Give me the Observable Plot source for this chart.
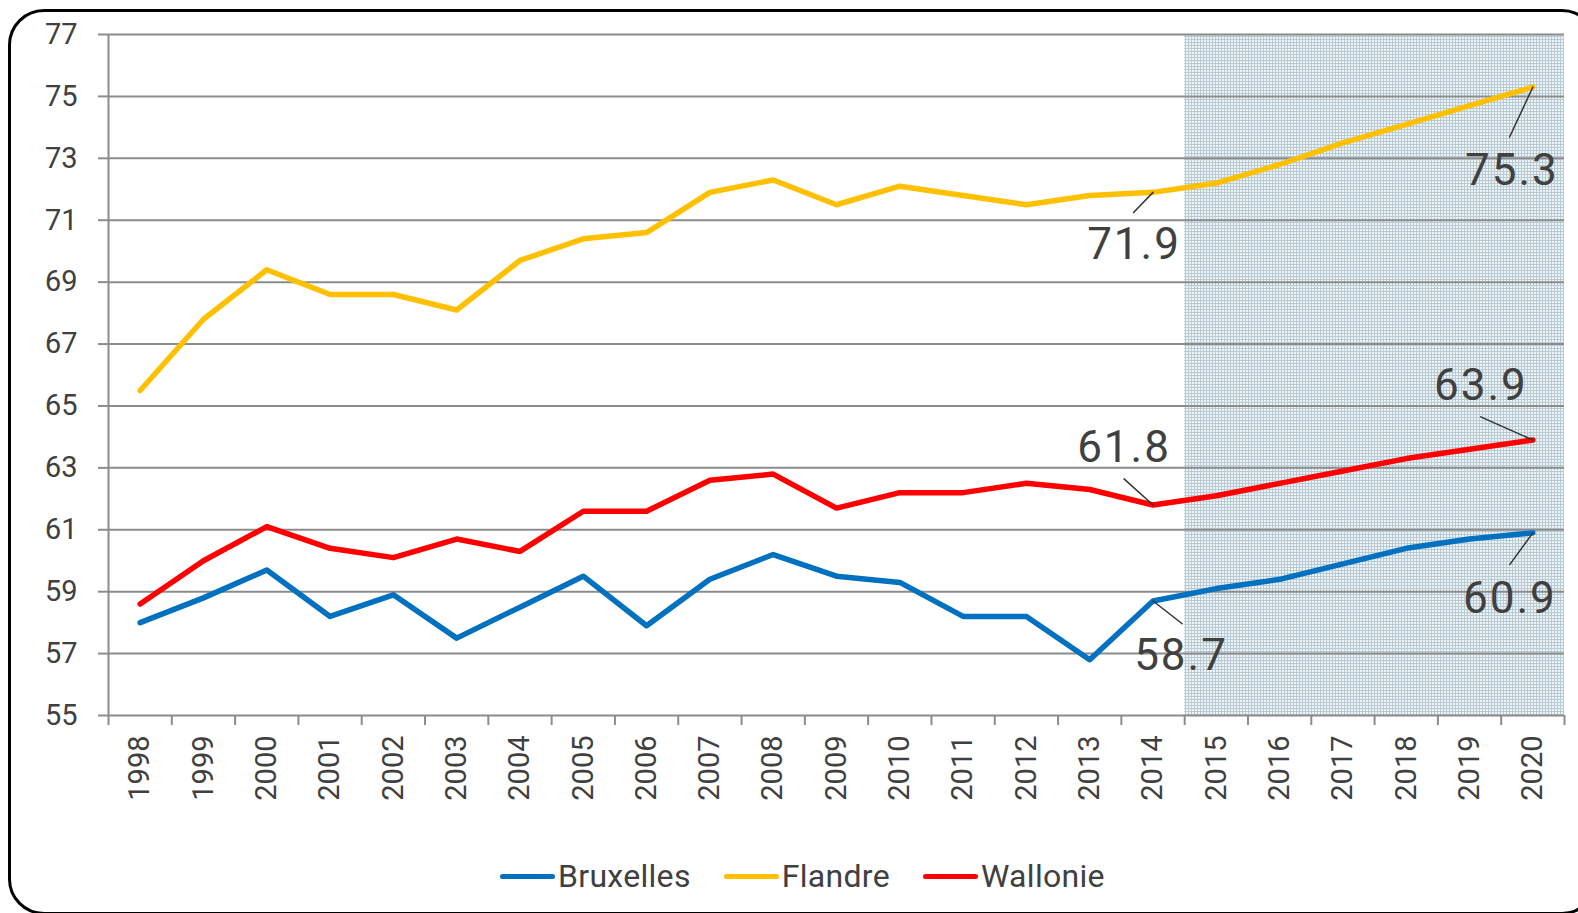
<!DOCTYPE html>
<html>
<head>
<meta charset="utf-8">
<script src="https://cdn.jsdelivr.net/npm/d3@7"></script>
<script src="https://cdn.jsdelivr.net/npm/@observablehq/plot@0.6"></script>
<style>
  html, body { margin: 0; padding: 0; background: #fff; width: 1578px; height: 913px; overflow: hidden; }
  #frame { position: absolute; left: 8px; top: 9px; width: 1590px; height: 906px; border: 3px solid #000; border-radius: 36px; box-sizing: border-box; pointer-events: none; }
  #chart { position: absolute; left: 0; top: 0; }
  #legend { position: absolute; top: 857px; left: 500px; display: flex; align-items: center; font-family: Roboto, sans-serif; font-size: 32px; color: #404040; letter-spacing: 0.3px; }
  .item { display: flex; align-items: center; margin-right: 33px; }
  .sw { width: 55px; height: 5px; border-radius: 3px; margin-right: 3px; }
</style>
</head>
<body>
<div id="chart"></div>
<div id="legend"></div>
<div id="frame"></div>
<script>
const years = [1998, 1999, 2000, 2001, 2002, 2003, 2004, 2005, 2006, 2007, 2008, 2009, 2010, 2011, 2012, 2013, 2014, 2015, 2016, 2017, 2018, 2019, 2020];
const bruxelles = [58.0, 58.8, 59.7, 58.2, 58.9, 57.5, 58.5, 59.5, 57.9, 59.4, 60.2, 59.5, 59.3, 58.2, 58.2, 56.8, 58.7, 59.1, 59.4, 59.9, 60.4, 60.7, 60.9];
const flandre = [65.5, 67.8, 69.4, 68.6, 68.6, 68.1, 69.7, 70.4, 70.6, 71.9, 72.3, 71.5, 72.1, 71.8, 71.5, 71.8, 71.9, 72.2, 72.8, 73.5, 74.1, 74.7, 75.3];
const wallonie = [58.6, 60.0, 61.1, 60.4, 60.1, 60.7, 60.3, 61.6, 61.6, 62.6, 62.8, 61.7, 62.2, 62.2, 62.5, 62.3, 61.8, 62.1, 62.5, 62.9, 63.3, 63.6, 63.9];
const seriesNames = ["Bruxelles", "Flandre", "Wallonie"];
const seriesColors = ["#0070c0", "#ffc000", "#ff0000"];
const yTicks = [55, 57, 59, 61, 63, 65, 67, 69, 71, 73, 75, 77];
const projectionStart = 2015;
// labelled points: series and year
const labelled = [
  {series: "Flandre", year: 2014},
  {series: "Flandre", year: 2020},
  {series: "Wallonie", year: 2014},
  {series: "Wallonie", year: 2020},
  {series: "Bruxelles", year: 2014},
  {series: "Bruxelles", year: 2020}
];
// styling: label offsets (px) and leader line length/angle
const labelStyle = [
  {dx: -19, dy: 53, len: 28, angle: 224},
  {dx: -21, dy: 84, len: 55, angle: 205},
  {dx: -29, dy: -57, len: 39, angle: 312},
  {dx: -52, dy: -54, len: 57, angle: 294},
  {dx: 28, dy: 55, len: 37, angle: 128},
  {dx: -23, dy: 66, len: 39, angle: 216}
];

const valuesBySeries = {Bruxelles: bruxelles, Flandre: flandre, Wallonie: wallonie};
const data = seriesNames.flatMap(s => years.map((y, i) => ({series: s, year: y, value: valuesBySeries[s][i]})));
const anno = labelled.map((d, i) => ({...d, value: valuesBySeries[d.series][years.indexOf(d.year)], ...labelStyle[i]}));

const first = years[0], last = years[years.length - 1];
const boundaries = years.map(y => y - 0.5).concat([last + 0.5]);
const yMin = yTicks[0], yMax = yTicks[yTicks.length - 1];

const font = "Roboto, sans-serif";

const plot = Plot.plot({
  width: 1578,
  height: 820,
  marginTop: 34,
  marginBottom: 105,
  marginLeft: 108,
  marginRight: 14,
  style: {fontFamily: font, background: "transparent"},
  x: {domain: [first - 0.5, last + 0.5], axis: null},
  y: {domain: [yMin, yMax], axis: null},
  length: {type: "identity"},
  color: {domain: seriesNames, range: seriesColors},
  marks: [
    Plot.rect([{x1: projectionStart - 0.5, x2: last + 0.5, y1: yMin, y2: yMax}], {x1: "x1", x2: "x2", y1: "y1", y2: "y2", fill: "url(#dots)"}),
    Plot.gridY(yTicks, {stroke: "#8c8c8c", strokeOpacity: 1, strokeWidth: 2}),
    Plot.ruleX([first - 0.5], {stroke: "#8c8c8c", strokeWidth: 2}),
    Plot.axisY(yTicks, {tickSize: 10, tickPadding: 21, stroke: "#8c8c8c", strokeWidth: 2, fontSize: 29, fill: "#404040", label: null, tickFormat: d => String(d)}),
    Plot.axisX(boundaries, {tickSize: 10, stroke: "#8c8c8c", strokeWidth: 2, tickFormat: () => "", label: null}),
    Plot.axisX(years, {tickSize: 0, tickPadding: 20, tickRotate: -90, fontSize: 29, fill: "#404040", label: null, tickFormat: d => String(d)}),
    Plot.line(data, {x: "year", y: "value", z: "series", stroke: "series", strokeWidth: 5.5, strokeLinecap: "round", strokeLinejoin: "round"}),
    Plot.vector(anno, {x: "year", y: "value", length: "len", rotate: "angle", anchor: "start", stroke: "#333", strokeWidth: 1.5,
      shape: {draw(context, l) { context.moveTo(0, 0); context.lineTo(0, -l); }}}),
    ...anno.map(a => Plot.text([a], {x: "year", y: "value", text: d => d.value.toFixed(1), dx: a.dx, dy: a.dy, fontSize: 44, fill: "#404040", fontFamily: font, textAnchor: "middle", lineAnchor: "middle"}))
  ]
});

// pattern for projection area
const ns = "http://www.w3.org/2000/svg";
const defs = document.createElementNS(ns, "defs");
defs.innerHTML = `<pattern id="dots" width="3" height="3" patternUnits="userSpaceOnUse">
  <rect width="3" height="3" fill="#eef3f6"/>
  <rect width="3" height="1" fill="#b8cad3"/>
  <rect width="1" height="3" fill="#b8cad3"/>
</pattern>`;
plot.insertBefore(defs, plot.firstChild);
document.getElementById("chart").appendChild(plot);
// slight letter spacing on the value labels, as in the reference
plot.querySelectorAll("text").forEach(t => { if (t.textContent.includes(".")) t.setAttribute("letter-spacing", "2"); });

// legend
const legend = document.getElementById("legend");
seriesNames.forEach((s, i) => {
  const item = document.createElement("div");
  item.className = "item";
  const sw = document.createElement("div");
  sw.className = "sw";
  sw.style.background = seriesColors[i];
  const label = document.createElement("span");
  label.textContent = s;
  item.appendChild(sw);
  item.appendChild(label);
  legend.appendChild(item);
});
</script>
</body>
</html>
